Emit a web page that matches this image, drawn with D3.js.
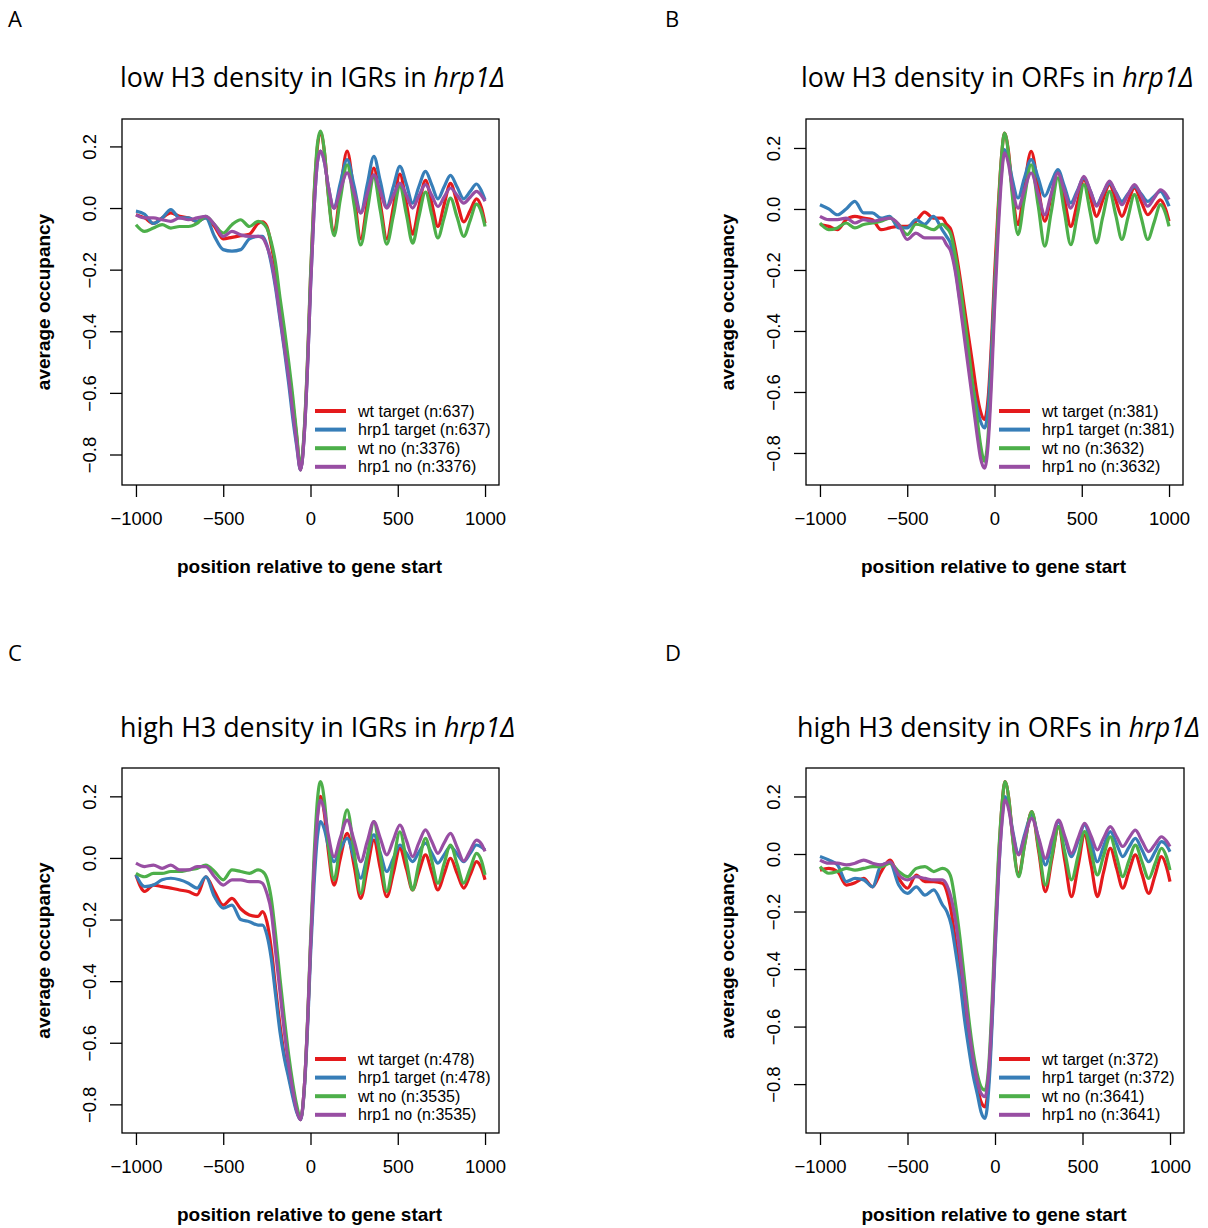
<!DOCTYPE html>
<html>
<head>
<meta charset="utf-8">
<script src="https://cdn.jsdelivr.net/npm/d3@7"></script>
<style>
  body { margin: 0; background: #fff; }
  svg text { font-family: "Liberation Sans", Arial, sans-serif; fill: #000; }
</style>
</head>
<body>
<svg id="chart" width="1208" height="1228"></svg>
<script>
// position relative to gene start (bp), shared by every series
const positions = [-1000,-950,-900,-850,-800,-750,-700,-650,-600,-550,-500,-450,-400,-350,-300,
  -275,-250,-225,-200,-175,-150,-125,-100,-80,-57,
  -35,-15,0,20,40,57,
  80,100,135,170,210,250,288,325,363,400,437,475,512,550,585,620,659,695,730,765,802,840,878,915,951,980,1000];

const xTicks = [-1000, -500, 0, 500, 1000];
const yTicks = [-0.8, -0.6, -0.4, -0.2, 0, 0.2];

const seriesNames = ["wt target", "hrp1 target", "wt no", "hrp1 no"];
const colors = ["#E41A1C", "#377EB8", "#4DAF4A", "#984EA3"];

const panelLetters = ["A", "B", "C", "D"];
const panelTitles = ["low H3 density in IGRs in ", "low H3 density in ORFs in ",
  "high H3 density in IGRs in ", "high H3 density in ORFs in "];
const titleGene = "hrp1\u0394";

const countsA = [637, 637, 3376, 3376];
const countsB = [381, 381, 3632, 3632];
const countsC = [478, 478, 3535, 3535];
const countsD = [372, 372, 3641, 3641];

// A: low H3 density in IGRs
const aWtTarget = [-0.022,-0.032,-0.05,-0.032,-0.016,-0.027,-0.032,-0.043,-0.032,-0.06,-0.1,-0.095,-0.09,-0.085,-0.05,
  -0.045,-0.06,-0.12,-0.2,-0.31,-0.41,-0.52,-0.64,-0.74,-0.85,
  -0.72,-0.47,-0.23,0.03,0.2,0.245,
  0.18,0.056,-0.08,0.053,0.185,0.043,-0.1,0.015,0.13,0.015,-0.1,0.005,0.11,0.013,-0.085,0.003,0.09,0.015,-0.06,0.01,0.08,0.018,-0.045,-0.008,0.03,0.0,-0.05];
const aHrp1Target = [-0.01,-0.02,-0.05,-0.032,-0.005,-0.032,-0.032,-0.043,-0.032,-0.092,-0.135,-0.14,-0.135,-0.1,-0.092,
  -0.092,-0.12,-0.18,-0.26,-0.36,-0.46,-0.57,-0.69,-0.77,-0.85,
  -0.73,-0.49,-0.26,-0.01,0.15,0.185,
  0.148,0.078,0,0.079,0.157,0.071,-0.016,0.076,0.168,0.087,0.005,0.07,0.135,0.076,0.016,0.068,0.119,0.075,0.03,0.068,0.106,0.068,0.03,0.054,0.078,0.055,0.027];
const aWtNo = [-0.054,-0.076,-0.065,-0.054,-0.065,-0.06,-0.06,-0.05,-0.027,-0.054,-0.081,-0.054,-0.038,-0.06,-0.043,
  -0.048,-0.065,-0.11,-0.18,-0.29,-0.39,-0.5,-0.62,-0.73,-0.84,
  -0.71,-0.46,-0.22,0.04,0.21,0.25,
  0.182,0.053,-0.09,0.025,0.14,0.01,-0.12,-0.01,0.1,-0.009,-0.117,-0.024,0.07,-0.022,-0.114,-0.031,0.052,-0.023,-0.097,-0.033,0.032,-0.03,-0.092,-0.04,0.013,-0.015,-0.06];
const aHrp1No = [-0.022,-0.032,-0.032,-0.038,-0.043,-0.032,-0.038,-0.032,-0.027,-0.054,-0.092,-0.076,-0.087,-0.092,-0.092,
  -0.097,-0.124,-0.17,-0.25,-0.35,-0.45,-0.55,-0.67,-0.76,-0.85,
  -0.73,-0.49,-0.26,-0.01,0.15,0.185,
  0.148,0.078,0,0.057,0.114,0.049,-0.016,0.046,0.108,0.054,0,0.041,0.081,0.041,0,0.038,0.076,0.041,0.005,0.035,0.065,0.041,0.016,0.035,0.054,0.04,0.022];

// B: low H3 density in ORFs
const bWtTarget = [-0.051,-0.057,-0.068,-0.035,-0.024,-0.03,-0.035,-0.068,-0.062,-0.057,-0.057,-0.04,-0.01,-0.03,-0.03,
  -0.05,-0.068,-0.128,-0.215,-0.314,-0.412,-0.51,-0.609,-0.664,-0.69,
  -0.61,-0.41,-0.22,-0.005,0.17,0.249,
  0.189,0.075,-0.051,0.069,0.189,0.075,-0.04,0.042,0.123,0.033,-0.057,0.02,0.096,0.036,-0.024,0.028,0.08,0.028,-0.024,0.023,0.069,0.025,-0.019,0.006,0.03,0.0,-0.04];
const bHrp1Target = [0.014,0.0,-0.019,0.0,0.025,-0.013,-0.013,-0.03,-0.024,-0.062,-0.062,-0.035,-0.05,-0.024,-0.068,
  -0.09,-0.117,-0.193,-0.292,-0.39,-0.488,-0.576,-0.652,-0.696,-0.718,
  -0.64,-0.44,-0.26,-0.05,0.12,0.195,
  0.163,0.103,0.036,0.099,0.162,0.102,0.042,0.086,0.129,0.075,0.02,0.061,0.102,0.058,0.014,0.05,0.085,0.055,0.025,0.05,0.074,0.05,0.025,0.042,0.058,0.035,0.009];
const bWtNo = [-0.046,-0.068,-0.062,-0.046,-0.062,-0.051,-0.046,-0.04,-0.03,-0.05,-0.084,-0.05,-0.057,-0.068,-0.05,
  -0.062,-0.084,-0.15,-0.237,-0.346,-0.456,-0.576,-0.685,-0.773,-0.827,
  -0.73,-0.5,-0.29,-0.03,0.17,0.249,
  0.182,0.056,-0.084,0.03,0.145,0.012,-0.122,-0.01,0.102,-0.008,-0.117,-0.019,0.08,-0.016,-0.111,-0.027,0.058,-0.021,-0.1,-0.027,0.047,-0.027,-0.1,-0.043,0.014,-0.015,-0.057];
const bHrp1No = [-0.024,-0.035,-0.035,-0.03,-0.046,-0.035,-0.04,-0.035,-0.03,-0.05,-0.1,-0.079,-0.095,-0.095,-0.095,
  -0.117,-0.14,-0.204,-0.303,-0.412,-0.521,-0.63,-0.74,-0.817,-0.85,
  -0.76,-0.54,-0.33,-0.09,0.1,0.184,
  0.148,0.079,0.003,0.06,0.118,0.05,-0.019,0.05,0.118,0.06,0.003,0.055,0.107,0.058,0.009,0.05,0.091,0.052,0.014,0.047,0.08,0.045,0.009,0.036,0.063,0.05,0.031];

// C: high H3 density in IGRs
const cWtTarget = [-0.055,-0.109,-0.088,-0.093,-0.098,-0.104,-0.109,-0.12,-0.061,-0.109,-0.153,-0.131,-0.165,-0.185,-0.19,
  -0.174,-0.207,-0.293,-0.423,-0.542,-0.64,-0.705,-0.77,-0.818,-0.85,
  -0.74,-0.51,-0.29,-0.04,0.14,0.2,
  0.142,0.033,-0.088,-0.004,0.08,-0.026,-0.131,-0.037,0.058,-0.034,-0.126,-0.048,0.031,-0.037,-0.104,-0.047,0.01,-0.047,-0.104,-0.053,-0.001,-0.05,-0.098,-0.055,-0.012,-0.035,-0.071];
const cHrp1Target = [-0.055,-0.093,-0.088,-0.071,-0.066,-0.071,-0.082,-0.098,-0.061,-0.126,-0.163,-0.153,-0.2,-0.207,-0.218,
  -0.218,-0.25,-0.326,-0.445,-0.564,-0.65,-0.715,-0.78,-0.824,-0.85,
  -0.75,-0.53,-0.32,-0.09,0.07,0.118,
  0.092,0.043,-0.012,0.026,0.064,-0.001,-0.066,0.005,0.075,0.016,-0.044,-0.001,0.042,0.015,-0.012,0.018,0.048,0.016,-0.017,0.01,0.037,0.013,-0.012,0.015,0.042,0.035,0.026];
const cWtNo = [-0.05,-0.061,-0.05,-0.05,-0.044,-0.044,-0.039,-0.034,-0.023,-0.044,-0.071,-0.039,-0.044,-0.05,-0.039,
  -0.044,-0.066,-0.131,-0.25,-0.39,-0.52,-0.64,-0.737,-0.8,-0.845,
  -0.74,-0.5,-0.27,0.0,0.19,0.248,
  0.184,0.063,-0.071,0.043,0.156,0.021,-0.115,0.002,0.118,0.005,-0.109,-0.012,0.085,-0.01,-0.104,-0.02,0.064,-0.009,-0.082,-0.02,0.042,-0.02,-0.082,-0.034,0.015,-0.01,-0.055];
const cHrp1No = [-0.017,-0.028,-0.023,-0.034,-0.023,-0.039,-0.039,-0.028,-0.028,-0.061,-0.088,-0.071,-0.071,-0.077,-0.077,
  -0.082,-0.115,-0.174,-0.304,-0.434,-0.564,-0.672,-0.759,-0.818,-0.85,
  -0.74,-0.51,-0.29,-0.04,0.13,0.188,
  0.151,0.081,0.004,0.064,0.123,0.056,-0.012,0.053,0.118,0.064,0.01,0.059,0.107,0.056,0.004,0.048,0.091,0.053,0.015,0.048,0.08,0.035,-0.01,0.024,0.058,0.045,0.021];

// D: high H3 density in ORFs
const dWtTarget = [-0.056,-0.05,-0.061,-0.108,-0.1,-0.085,-0.114,-0.061,-0.021,-0.085,-0.119,-0.073,-0.096,-0.096,-0.102,
  -0.131,-0.2,-0.305,-0.41,-0.537,-0.653,-0.746,-0.815,-0.861,-0.879,
  -0.78,-0.54,-0.31,-0.03,0.17,0.252,
  0.187,0.064,-0.073,0.037,0.147,0.008,-0.131,-0.018,0.095,-0.027,-0.148,-0.041,0.066,-0.041,-0.148,-0.064,0.02,-0.05,-0.119,-0.061,-0.003,-0.07,-0.137,-0.073,-0.009,-0.045,-0.096];
const dHrp1Target = [-0.009,-0.021,-0.038,-0.096,-0.085,-0.09,-0.114,-0.038,-0.032,-0.108,-0.137,-0.114,-0.143,-0.125,-0.177,
  -0.2,-0.247,-0.34,-0.444,-0.571,-0.676,-0.769,-0.838,-0.896,-0.919,
  -0.81,-0.57,-0.35,-0.08,0.12,0.2,
  0.16,0.085,0.002,0.069,0.136,0.049,-0.038,0.037,0.112,0.052,-0.009,0.046,0.101,0.037,-0.027,0.026,0.078,0.035,-0.009,0.023,0.054,0.014,-0.027,0.008,0.043,0.03,0.008];
const dWtNo = [-0.044,-0.067,-0.061,-0.05,-0.056,-0.05,-0.044,-0.044,-0.032,-0.061,-0.079,-0.05,-0.044,-0.061,-0.05,
  -0.056,-0.085,-0.177,-0.293,-0.432,-0.571,-0.687,-0.769,-0.809,-0.821,
  -0.73,-0.49,-0.27,-0.01,0.17,0.252,
  0.186,0.06,-0.079,0.034,0.147,0.02,-0.108,-0.007,0.095,0.003,-0.09,-0.006,0.078,0.003,-0.073,-0.007,0.06,-0.01,-0.079,-0.024,0.031,-0.027,-0.085,-0.033,0.02,-0.01,-0.056];
const dHrp1No = [-0.021,-0.032,-0.032,-0.038,-0.032,-0.021,-0.032,-0.038,-0.027,-0.073,-0.09,-0.079,-0.085,-0.09,-0.09,
  -0.108,-0.154,-0.235,-0.351,-0.479,-0.606,-0.711,-0.792,-0.832,-0.844,
  -0.75,-0.53,-0.32,-0.07,0.11,0.188,
  0.15,0.077,-0.003,0.061,0.124,0.055,-0.015,0.052,0.118,0.06,0.002,0.055,0.107,0.061,0.014,0.055,0.095,0.06,0.026,0.055,0.083,0.045,0.008,0.034,0.06,0.045,0.026];

const svg = d3.select("#chart");

// plot boxes and y ranges of the four panels
const panels = [
  { series: [aWtTarget, aHrp1Target, aWtNo, aHrp1No], counts: countsA,
    box: { x: 122, y: 119, w: 377, h: 366 }, yDomain: [-0.899, 0.289],
    letterPos: [8, 27], titlePos: [120, 87] },
  { series: [bWtTarget, bHrp1Target, bWtNo, bHrp1No], counts: countsB,
    box: { x: 806, y: 119, w: 377, h: 366 }, yDomain: [-0.905, 0.295],
    letterPos: [665, 27], titlePos: [801, 87] },
  { series: [cWtTarget, cHrp1Target, cWtNo, cHrp1No], counts: countsC,
    box: { x: 122, y: 768, w: 377, h: 365 }, yDomain: [-0.893, 0.292],
    letterPos: [8, 661], titlePos: [120, 737] },
  { series: [dWtTarget, dHrp1Target, dWtNo, dHrp1No], counts: countsD,
    box: { x: 806, y: 768, w: 378, h: 365 }, yDomain: [-0.970, 0.299],
    letterPos: [665, 661], titlePos: [797, 737] }
];

panels.forEach((p, i) => drawPanel(p, i));

function drawPanel(p, i) {
  const g = svg.append("g");
  const b = p.box;

  const x = d3.scaleLinear().domain([-1080, 1080]).range([b.x, b.x + b.w]);
  const y = d3.scaleLinear().domain(p.yDomain).range([b.y + b.h, b.y]);

  // panel letter
  g.append("text")
    .attr("x", p.letterPos[0])
    .attr("y", p.letterPos[1])
    .style("font-family", "'Open Sans', sans-serif")
    .style("font-size", "22px")
    .text(panelLetters[i]);

  // title, gene name in italics
  const title = g.append("text")
    .attr("x", p.titlePos[0])
    .attr("y", p.titlePos[1])
    .style("font-family", "'Open Sans', sans-serif")
    .style("font-size", "26.8px");
  title.append("tspan").text(panelTitles[i]);
  title.append("tspan").style("font-style", "italic").text(titleGene);

  // the four profiles
  const line = d3.line()
    .x((d, k) => x(positions[k]))
    .y(d => y(d))
    .curve(d3.curveMonotoneX);

  p.series.forEach((s, k) => {
    g.append("path")
      .attr("d", line(s))
      .attr("fill", "none")
      .attr("stroke", colors[k])
      .attr("stroke-width", 3.2)
      .attr("stroke-linejoin", "round");
  });

  // frame
  g.append("rect")
    .attr("x", b.x).attr("y", b.y)
    .attr("width", b.w).attr("height", b.h)
    .attr("fill", "none")
    .attr("stroke", "#000")
    .attr("stroke-width", 1.3);

  // x axis
  const xAxis = g.append("g")
    .attr("transform", `translate(0,${b.y + b.h})`)
    .call(d3.axisBottom(x).tickValues(xTicks).tickSize(12).tickFormat(d3.format("d")));
  xAxis.select(".domain").remove();
  xAxis.selectAll("line").attr("stroke-width", 1.3);
  xAxis.selectAll("text")
    .attr("y", 34)
    .attr("dy", "0.35em")
    .style("font-family", "'Liberation Sans', Arial, sans-serif")
    .style("font-size", "18.5px");

  // y axis, labels parallel to the axis as in R
  const yAxis = g.append("g")
    .attr("transform", `translate(${b.x},0)`)
    .call(d3.axisLeft(y).tickValues(yTicks).tickSize(12).tickFormat(d3.format(".1f")));
  yAxis.select(".domain").remove();
  yAxis.selectAll("line").attr("stroke-width", 1.3);
  yAxis.selectAll("text")
    .attr("x", 0)
    .attr("dy", "0.35em")
    .attr("text-anchor", "middle")
    .attr("transform", "translate(-32,0) rotate(-90)")
    .style("font-family", "'Liberation Sans', Arial, sans-serif")
    .style("font-size", "18.5px");

  // axis titles
  g.append("text")
    .attr("x", b.x + b.w / 2 - 1)
    .attr("y", b.y + b.h + 81)
    .attr("dy", "0.35em")
    .attr("text-anchor", "middle")
    .style("font-weight", "bold")
    .style("font-size", "19px")
    .text("position relative to gene start");

  g.append("text")
    .attr("transform", `translate(${b.x - 79},${b.y + b.h / 2}) rotate(-90)`)
    .attr("dy", "0.35em")
    .attr("text-anchor", "middle")
    .style("font-weight", "bold")
    .style("font-size", "19px")
    .text("average occupancy");

  // legend
  const legend = g.append("g")
    .attr("transform", `translate(${b.x + 193},${b.y + b.h - 74})`);
  seriesNames.forEach((name, k) => {
    legend.append("line")
      .attr("x1", 0).attr("x2", 31)
      .attr("y1", k * 18.6).attr("y2", k * 18.6)
      .attr("stroke", colors[k])
      .attr("stroke-width", 4);
    legend.append("text")
      .attr("x", 43)
      .attr("y", k * 18.6)
      .attr("dy", "0.35em")
      .style("font-size", "16px")
      .text(`${name} (n:${p.counts[k]})`);
  });
}
</script>
</body>
</html>
